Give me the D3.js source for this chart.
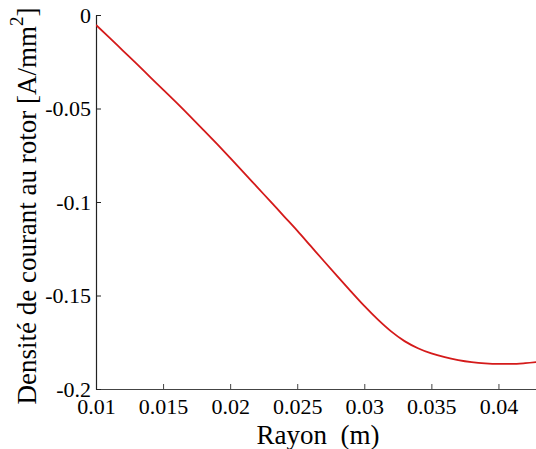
<!DOCTYPE html>
<html>
<head>
<meta charset="utf-8">
<script src="https://cdn.jsdelivr.net/npm/d3@7/dist/d3.min.js"></script>
<style>
  html, body { margin: 0; padding: 0; background: #fff; }
  svg { display: block; }
</style>
</head>
<body>
<svg id="chart" width="536" height="449"></svg>
<script>
// Rotor current density versus radius
const radius = [0.010, 0.011, 0.012, 0.013, 0.014, 0.015, 0.016, 0.017, 0.018, 0.019,
                0.020, 0.021, 0.022, 0.023, 0.024, 0.025, 0.026, 0.027, 0.028, 0.029,
                0.030, 0.031, 0.032, 0.033, 0.034, 0.035, 0.036, 0.037, 0.038, 0.039,
                0.040, 0.041, 0.042, 0.043];
const density = [-0.0053, -0.0121, -0.0190, -0.0259, -0.0329, -0.0399, -0.0469, -0.0541, -0.0614, -0.0688,
                 -0.0764, -0.0841, -0.0919, -0.0997, -0.1075, -0.1153, -0.1235, -0.1317, -0.1398, -0.1478,
                 -0.1556, -0.1628, -0.1692, -0.1744, -0.1782, -0.1810, -0.1830, -0.1845, -0.1856, -0.1863,
                 -0.1866, -0.1866, -0.1862, -0.1855];
const xTicks = [0.01, 0.015, 0.02, 0.025, 0.03, 0.035, 0.04];
const xTickLabels = ["0.01", "0.015", "0.02", "0.025", "0.03", "0.035", "0.04"];
const yTicks = [0, -0.05, -0.1, -0.15, -0.2];
const yTickLabels = ["0", "-0.05", "-0.1", "-0.15", "-0.2"];

const SERIF = "'Liberation Serif', Tinos, 'Times New Roman', Times, 'DejaVu Serif', serif";

const svg = d3.select("#chart");
const plot = { left: 96, right: 536, top: 15, bottom: 389 };

const x = d3.scaleLinear().domain([0.01, 0.0428]).range([plot.left, plot.right]);
const y = d3.scaleLinear().domain([-0.2, 0]).range([plot.bottom, plot.top]);

// keep the curve inside the plotting area
svg.append("clipPath").attr("id", "plot-clip")
  .append("rect").attr("x", plot.left).attr("y", 0)
  .attr("width", plot.right - plot.left).attr("height", plot.bottom);

// x axis with inward ticks
const xAxis = svg.append("g").attr("transform", `translate(0,${plot.bottom})`)
  .call(d3.axisBottom(x).tickValues(xTicks).tickSizeInner(-5).tickSizeOuter(0)
    .tickFormat((d, i) => xTickLabels[i]));
xAxis.attr("font-family", SERIF).attr("font-size", 22);
xAxis.select(".domain").attr("stroke", "#444").attr("stroke-width", 1.2);
xAxis.selectAll(".tick line").attr("stroke", "#444");
xAxis.selectAll(".tick text").style("font-family", SERIF).attr("fill", "#000")
  .attr("dy", 0).attr("y", 25);

// y axis with inward ticks
const yAxis = svg.append("g").attr("transform", `translate(${plot.left},0)`)
  .call(d3.axisLeft(y).tickValues(yTicks).tickSizeInner(-5).tickSizeOuter(0)
    .tickFormat((d, i) => yTickLabels[i]));
yAxis.attr("font-family", SERIF).attr("font-size", 22);
yAxis.select(".domain").attr("stroke", "#222").attr("stroke-width", 1.2);
yAxis.selectAll(".tick line").attr("stroke", "#222");
yAxis.selectAll(".tick text").style("font-family", SERIF).attr("fill", "#000")
  .attr("x", -5).attr("dy", "0.32em");

// curve
const line = d3.line().x((d, i) => x(radius[i])).y(d => y(d)).curve(d3.curveMonotoneX);
svg.append("path").datum(density)
  .attr("d", line)
  .attr("clip-path", "url(#plot-clip)")
  .attr("fill", "none")
  .attr("stroke", "#d41a1a")
  .attr("stroke-width", 1.8);

// axis titles
svg.append("text")
  .style("font-family", SERIF)
  .attr("x", 318).attr("y", 444)
  .attr("text-anchor", "middle")
  .attr("font-size", 27)
  .attr("xml:space", "preserve")
  .text("Rayon  (m)");

const yTitle = svg.append("text")
  .style("font-family", SERIF)
  .attr("transform", "translate(36,206) rotate(-90)")
  .attr("text-anchor", "middle")
  .attr("font-size", 27);
yTitle.append("tspan").text("Densité de courant au rotor [A/mm");
yTitle.append("tspan").attr("dy", -13).attr("font-size", 19).text("2");
yTitle.append("tspan").attr("dy", 13).text("]");
</script>
</body>
</html>
